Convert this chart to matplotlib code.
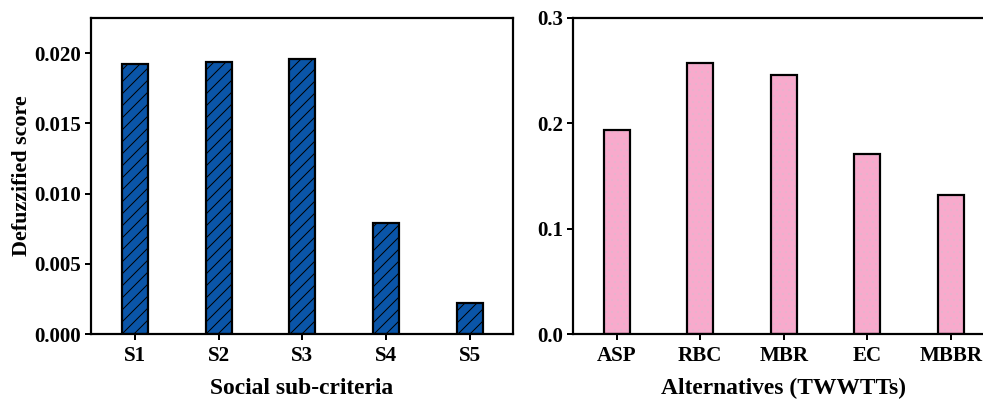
import matplotlib
matplotlib.use('Agg')
import matplotlib.pyplot as plt

# data
social = ['S1', 'S2', 'S3', 'S4', 'S5']
social_score = [0.0192, 0.01938, 0.0196, 0.00788, 0.00218]

alternatives = ['ASP', 'RBC', 'MBR', 'EC', 'MBBR']
alt_score = [0.1937, 0.2576, 0.2456, 0.1706, 0.1317]

plt.rcParams['font.family'] = 'Liberation Serif'
plt.rcParams['font.weight'] = 'bold'
plt.rcParams['axes.labelweight'] = 'bold'
plt.rcParams['hatch.linewidth'] = 1.0

# dpi 72 so the hatch spacing matches the reference
fig = plt.figure(figsize=(983 / 72, 408 / 72), dpi=72)
ax1 = fig.add_axes([91 / 983, 74 / 408, 422 / 983, 316 / 408])
ax2 = fig.add_axes([573 / 983, 74 / 408, 421 / 983, 316 / 408])

x = range(1, 6)

ax1.bar(x, social_score, width=0.31, color='#0a55a8', edgecolor='black',
        linewidth=2.2, hatch='//')
ax1.set_ylim(0, 0.0225)
ax1.set_yticks([0, 0.005, 0.010, 0.015, 0.020])
ax1.set_yticklabels(['0.000', '0.005', '0.010', '0.015', '0.020'])
ax1.set_ylabel('Defuzzified score', fontsize=22, labelpad=2)
ax1.set_xlabel('Social sub-criteria', fontsize=23.5, labelpad=12)
ax1.set_xticks(list(x))
ax1.set_xticklabels(social)

bars = ax2.bar(x, alt_score, width=0.31, color='#f8aacc', edgecolor='black',
               linewidth=2.2)
for b in bars:
    b.set_hatch('..')
    b._hatch_color = (0.9, 0.7, 0.8, 1.0)
ax2.set_ylim(0, 0.3)
ax2.set_yticks([0, 0.1, 0.2, 0.3])
ax2.set_yticklabels(['0.0', '0.1', '0.2', '0.3'])
ax2.set_xlabel('Alternatives (TWWTTs)', fontsize=23.5, labelpad=12)
ax2.set_xticks(list(x))
ax2.set_xticklabels(alternatives)

for ax in (ax1, ax2):
    ax.set_xlim(0.476, 5.515)
    for s in ax.spines.values():
        s.set_linewidth(2.2)
    ax.tick_params(axis='both', labelsize=21, width=2, length=6,
                   direction='out')
    ax.tick_params(axis='x', pad=6)
    ax.tick_params(axis='y', pad=4)

fig.savefig('out.png', dpi=72)
